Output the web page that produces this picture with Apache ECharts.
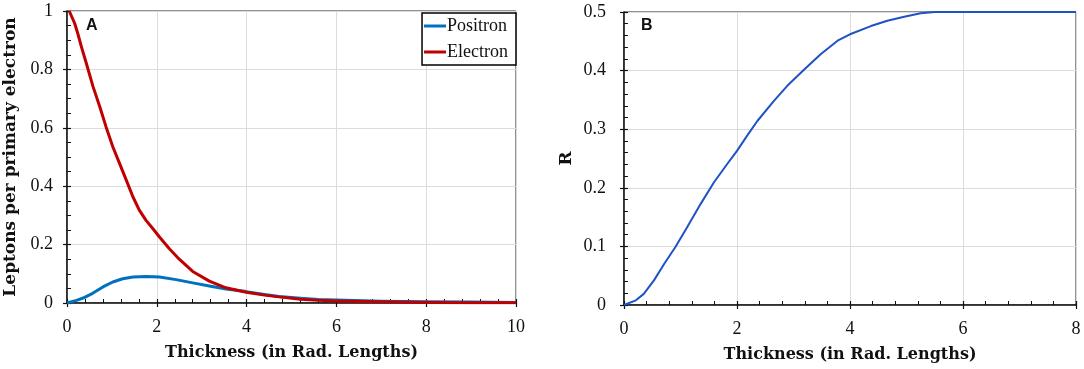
<!DOCTYPE html>
<html>
<head>
<meta charset="utf-8">
<script src="https://cdn.jsdelivr.net/npm/echarts@6/dist/echarts.min.js"></script>
<style>
  html, body { margin: 0; padding: 0; background: #fff; }
  #chart { width: 1084px; height: 369px; }
</style>
</head>
<body>
<div id="chart"></div>
<script>
// panel A : leptons per primary electron vs thickness [x, y]
var electronPts = [
    [0.05, 1.0], [0.17, 0.958], [0.24, 0.923], [0.32, 0.878], [0.43, 0.821],
    [0.58, 0.741], [0.73, 0.672], [0.87, 0.603], [1.02, 0.535], [1.17, 0.478],
    [1.32, 0.421], [1.47, 0.363], [1.61, 0.318], [1.76, 0.283], [1.91, 0.255],
    [2.06, 0.226], [2.28, 0.186], [2.5, 0.15], [2.8, 0.108], [3.17, 0.075],
    [3.54, 0.052], [3.99, 0.037], [4.4, 0.027], [4.72, 0.021], [5.2, 0.013],
    [5.6, 0.009], [6.0, 0.007], [7.0, 0.004], [8.0, 0.002], [9.0, 0.001], [10, 0.001]
];
var positronPts = [
    [0, 0], [0.21, 0.009], [0.36, 0.017], [0.58, 0.034], [0.8, 0.055],
    [1.02, 0.072], [1.24, 0.083], [1.47, 0.089], [1.76, 0.091], [2.06, 0.089],
    [2.43, 0.08], [2.8, 0.069], [3.17, 0.058], [3.54, 0.048], [3.99, 0.039],
    [4.4, 0.029], [4.72, 0.022], [5.2, 0.016], [5.6, 0.012], [6.0, 0.01],
    [7.0, 0.006], [8.0, 0.004], [9.0, 0.003], [10, 0.002]
];
// panel B : R vs thickness
var ratioPts = [
    [0, 0], [0.21, 0.008], [0.35, 0.019], [0.53, 0.042], [0.71, 0.07],
    [0.91, 0.099], [1.12, 0.133], [1.36, 0.173], [1.59, 0.209], [1.83, 0.241],
    [2.0, 0.263], [2.18, 0.289], [2.36, 0.314], [2.65, 0.348], [2.89, 0.374],
    [3.19, 0.402], [3.48, 0.428], [3.78, 0.451], [4.0, 0.462], [4.37, 0.476],
    [4.66, 0.485], [4.96, 0.492], [5.25, 0.498], [5.5, 0.5], [6, 0.5], [7, 0.5], [8, 0.5]
];
var seriesNames = ['Positron', 'Electron'];
var xTitle = 'Thickness (in Rad. Lengths)';
var yTitleA = 'Leptons per primary electron';
var yTitleB = 'R';

var serif = '"Liberation Serif", "DejaVu Serif", serif';
var titleFont = '"DejaVu Serif", serif';
var black = '#111';

function mainX(grid, max) {
    return {
        type: 'value', gridIndex: grid, position: 'bottom', min: 0, max: max, interval: 2,
        name: xTitle, nameLocation: 'middle', nameGap: 42,
        nameTextStyle: { fontFamily: titleFont, fontWeight: 'bold', fontSize: 16, color: black },
        axisLine: { show: true, onZero: false, lineStyle: { color: black, width: 1.5 } },
        axisTick: { show: true, inside: true, length: 4, lineStyle: { color: black, width: 1.2 } },
        minorTick: { show: true, splitNumber: 5, length: 4, lineStyle: { color: black, width: 1 } },
        axisLabel: { fontFamily: serif, fontSize: 18, color: black, margin: 15 },
        splitLine: { show: true, lineStyle: { color: '#dcdcdc', width: 1 } }
    };
}
function mainY(grid, max, step, minorSplit, name, gap, margin) {
    return {
        type: 'value', gridIndex: grid, position: 'left', min: 0, max: max, interval: step,
        name: name, nameLocation: 'middle', nameGap: gap,
        nameTextStyle: { fontFamily: titleFont, fontWeight: 'bold', fontSize: 17, color: black },
        axisLine: { show: true, onZero: false, lineStyle: { color: black, width: 1.5 } },
        axisTick: { show: true, inside: true, length: 4, lineStyle: { color: black, width: 1.2 } },
        minorTick: { show: true, splitNumber: minorSplit, length: 4, lineStyle: { color: black, width: 1 } },
        axisLabel: { fontFamily: serif, fontSize: 18, color: black, margin: margin },
        splitLine: { show: true, lineStyle: { color: '#dcdcdc', width: 1 } }
    };
}
// outer half of the major ticks (so they cross the axis line)
function outerTicks(kind, grid, max, step) {
    return {
        type: 'value', gridIndex: grid, position: kind === 'x' ? 'bottom' : 'left',
        min: 0, max: max, interval: step,
        axisLine: { show: false },
        axisTick: { show: true, inside: false, length: 4, lineStyle: { color: black, width: 1.2 } },
        axisLabel: { show: false },
        splitLine: { show: false }
    };
}

var chart = echarts.init(document.getElementById('chart'), null, { renderer: 'canvas' });
var option = {
    animation: false,
    backgroundColor: '#fff',
    grid: [
        { left: 67, right: 568, top: 11, bottom: 66, show: true, borderColor: '#222', borderWidth: 1 },
        { left: 624, right: 8, top: 12, bottom: 64, show: true, borderColor: '#222', borderWidth: 1 }
    ],
    legend: {
        data: seriesNames,
        orient: 'vertical',
        right: 568, top: 13,
        icon: 'rect', itemWidth: 22, itemHeight: 3, itemGap: 8,
        padding: [4, 8, 4, 2],
        borderColor: '#000', borderWidth: 1.5,
        backgroundColor: '#fff',
        textStyle: { fontFamily: serif, fontSize: 18, color: black, padding: [0, 0, 0, -4] }
    },
    xAxis: [
        mainX(0, 10),
        mainX(1, 8),
        outerTicks('x', 0, 10, 2),
        outerTicks('x', 1, 8, 2)
    ],
    yAxis: [
        mainY(0, 1, 0.2, 4, yTitleA, 48, 14),
        mainY(1, 0.5, 0.1, 5, yTitleB, 49, 18),
        outerTicks('y', 0, 1, 0.2),
        outerTicks('y', 1, 0.5, 0.1)
    ],
    graphic: [
        { type: 'text', left: 86, top: 18, style: { text: 'A', font: 'bold 16px "Liberation Sans", Arial, sans-serif', fill: black } },
        { type: 'text', left: 641, top: 18, style: { text: 'B', font: 'bold 16px "Liberation Sans", Arial, sans-serif', fill: black } }
    ],
    series: [
        {
            name: 'Positron', type: 'line', xAxisIndex: 0, yAxisIndex: 0,
            data: positronPts, showSymbol: false, smooth: false,
            lineStyle: { color: '#0070c0', width: 3, join: 'round' }, itemStyle: { color: '#0070c0' }
        },
        {
            name: 'Electron', type: 'line', xAxisIndex: 0, yAxisIndex: 0,
            data: electronPts, showSymbol: false, smooth: false,
            lineStyle: { color: '#c00000', width: 3, join: 'round' }, itemStyle: { color: '#c00000' }
        },
        {
            name: 'R', type: 'line', xAxisIndex: 1, yAxisIndex: 1,
            data: ratioPts, showSymbol: false, smooth: false,
            lineStyle: { color: '#1f52c4', width: 2, join: 'round' }, itemStyle: { color: '#1f52c4' }
        }
    ]
};
chart.setOption(option);
</script>
</body>
</html>
